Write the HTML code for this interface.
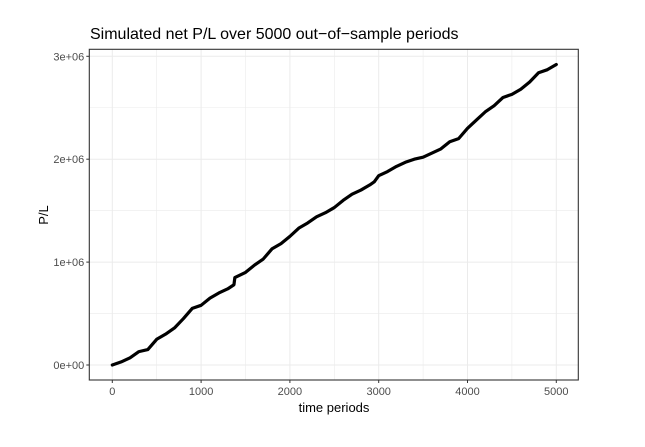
<!DOCTYPE html>
<html><head><meta charset="utf-8"><style>
body{margin:0;background:#fff;font-family:"Liberation Sans",sans-serif}
</style></head><body>
<svg id="chart" width="645" height="442" xmlns="http://www.w3.org/2000/svg">
<rect width="645" height="442" fill="#fff"/>
<text x="90" y="39" font-size="16" fill="#000">Simulated net P/L over 5000 out−of−sample periods</text>
<g id="grid"></g>
<g id="series"></g>
<rect x="89.3" y="49.3" width="489" height="330.7" fill="none" stroke="#333" stroke-width="1.1"/>
<g id="axes"></g>
<text x="334" y="412" font-size="13" text-anchor="middle">time periods</text>
<text transform="translate(48,215) rotate(-90)" font-size="13" text-anchor="middle">P/L</text>
</svg>
<script>
const times=[0,100,200,300,400,500,600,700,800,900,1000,1100,1200,1300,1370,1380,1500,1600,1700,1800,1900,2000,2100,2200,2300,2400,2500,2600,2700,2800,2900,2950,3000,3100,3200,3300,3400,3500,3600,3700,3800,3900,4000,4100,4200,4300,4400,4500,4600,4700,4800,4900,5000];
const pl=[0,0.03,0.07,0.13,0.15,0.25,0.30,0.36,0.45,0.55,0.58,0.65,0.70,0.74,0.78,0.85,0.90,0.97,1.03,1.13,1.18,1.25,1.33,1.38,1.44,1.48,1.53,1.60,1.66,1.70,1.75,1.78,1.84,1.88,1.93,1.97,2.00,2.02,2.06,2.10,2.17,2.20,2.30,2.38,2.46,2.52,2.60,2.63,2.68,2.75,2.84,2.87,2.92];
const xTicks=[0,1000,2000,3000,4000,5000];
const yTicks=[0,1,2,3];
const yLabels=["0e+00","1e+06","2e+06","3e+06"];
const NS="http://www.w3.org/2000/svg";
const L=89.3,R=578.3,T=49.3,B=380;
const X=v=>112.3+v*(556.3-112.3)/5000;
const Y=v=>365-v*(365-56.3)/3;
function mk(t,a,p){const e=document.createElementNS(NS,t);for(const k in a)e.setAttribute(k,a[k]);p.appendChild(e);return e;}
const g=document.getElementById('grid'),ax=document.getElementById('axes'),s=document.getElementById('series');
for(let i=-0.5;i<=3.5;i+=0.5){const y=Y(i);if(y<T||y>B)continue;const l=mk('line',{x1:L,x2:R,y1:y,y2:y,stroke:'#ebebeb','stroke-width':Number.isInteger(i)?1:0.6},g);}
for(let i=-500;i<=5500;i+=500){const x=X(i);if(x<L||x>R)continue;const l=mk('line',{x1:x,x2:x,y1:T,y2:B,stroke:'#ebebeb','stroke-width':i%1000==0?1:0.6},g);}
xTicks.forEach(v=>{const x=X(v);mk('line',{x1:x,x2:x,y1:B,y2:B+3,stroke:'#333'},ax);const t=mk('text',{x:x,y:B+15,'font-size':11,'text-anchor':'middle',fill:'#4d4d4d'},ax);t.textContent=v;});
yTicks.forEach((v,i)=>{const y=Y(v);mk('line',{x1:L-3,x2:L,y1:y,y2:y,stroke:'#333'},ax);const t=mk('text',{x:L-5,y:y+4,'font-size':11,'text-anchor':'end',fill:'#4d4d4d'},ax);t.textContent=yLabels[i];});
const p=mk('polyline',{points:times.map((t,i)=>X(t)+','+Y(pl[i])).join(' '),fill:'none',stroke:'#000','stroke-width':3.2,'stroke-linejoin':'round','stroke-linecap':'round'},s);


</script>
</body></html>
